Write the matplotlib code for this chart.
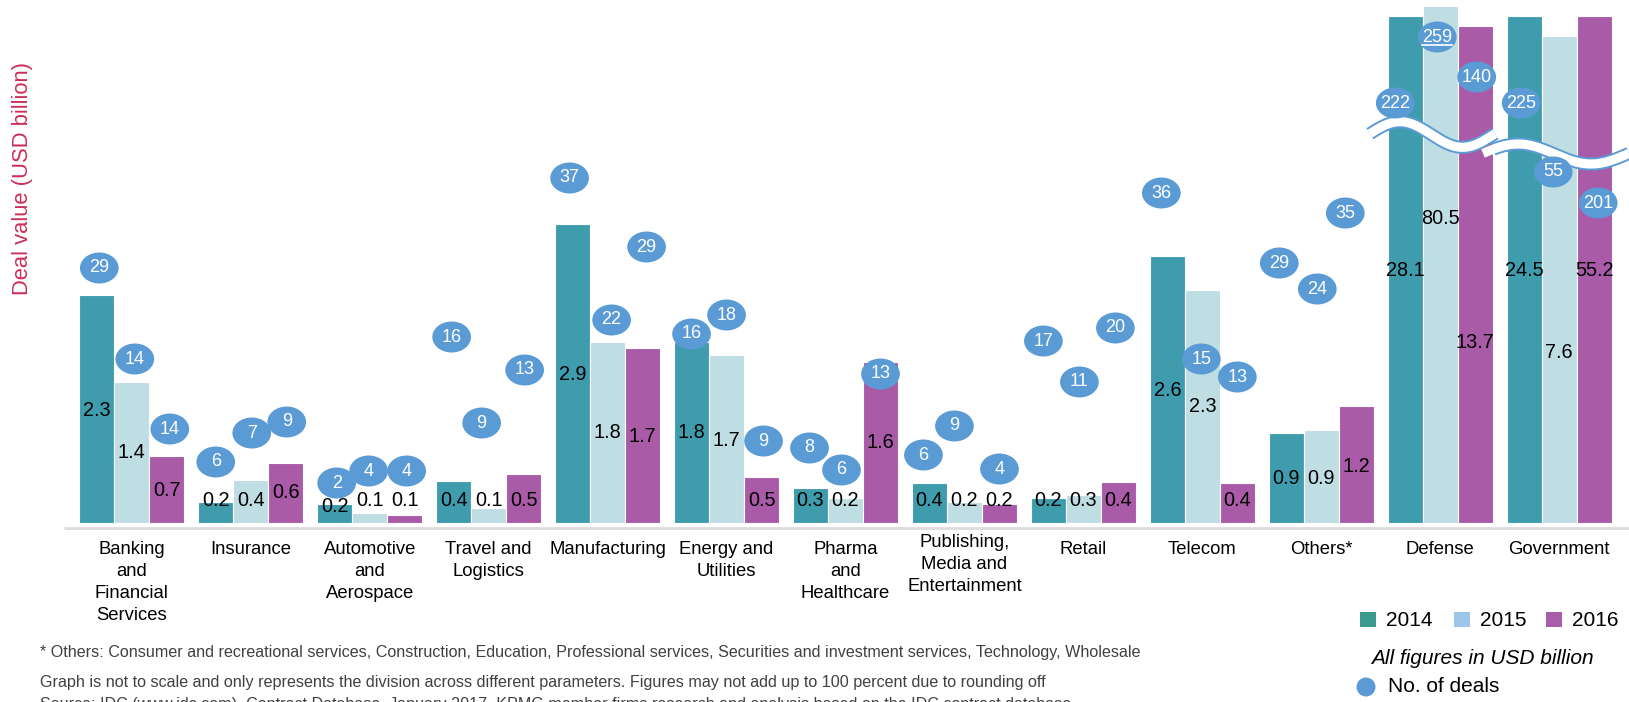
import numpy as np
import matplotlib
matplotlib.use("Agg")
import matplotlib.pyplot as plt
from matplotlib.patches import Ellipse, Rectangle

plt.rcParams['font.family'] = ['Liberation Sans', 'DejaVu Sans']

# Categories
categories = ["Banking\nand\nFinancial\nServices", "Insurance", "Automotive\nand\nAerospace",
              "Travel and\nLogistics", "Manufacturing", "Energy and\nUtilities",
              "Pharma\nand\nHealthcare", "Publishing,\nMedia and\nEntertainment", "Retail",
              "Telecom", "Others*", "Defense", "Government"]
years = ["2014", "2015", "2016"]

# Deal value labels (USD billion) as printed on the bars
values_2014 = ["2.3", "0.2", "0.2", "0.4", "2.9", "1.8", "0.3", "0.4", "0.2", "2.6", "0.9", "28.1", "24.5"]
values_2015 = ["1.4", "0.4", "0.1", "0.1", "1.8", "1.7", "0.2", "0.2", "0.3", "2.3", "0.9", "80.5", "7.6"]
values_2016 = ["0.7", "0.6", "0.1", "0.5", "1.7", "0.5", "1.6", "0.2", "0.4", "0.4", "1.2", "13.7", "55.2"]

# Drawn bar heights (graph is not to scale)
height_2014 = [228, 21, 19, 42, 299, 181, 35, 40, 25, 267, 90, 507, 507]
height_2015 = [141, 43, 10, 15, 181, 168, 25, 21, 28, 233, 93, 517, 487]
height_2016 = [67, 60, 8, 49, 175, 46, 161, 19, 41, 40, 117, 497, 507]

# Number of deals
deals_2014 = [29, 6, 2, 16, 37, 16, 8, 6, 17, 36, 29, 222, 225]
deals_2015 = [14, 7, 4, 9, 22, 18, 6, 9, 11, 15, 24, 259, 55]
deals_2016 = [14, 9, 4, 13, 29, 9, 13, 4, 20, 13, 35, 140, 201]

# Layout: label heights, bubble heights and x nudges
label_y_2014 = [113, 23, 16, 23, 148, 90, 23, 23, 23, 133, 45, 252, 252]
label_y_2015 = [70, 23, 23, 23, 90, 83, 23, 23, 23, 116, 45, 305, 171]
label_y_2016 = [33, 30, 23, 23, 86, 23, 80, 23, 23, 23, 57, 180, 252]
bubble_y_2014 = [255, 61, 40, 186, 345, 189, 75, 68, 182, 330, 260, 420, 420]
bubble_y_2015 = [164, 90, 52, 100, 203, 208, 53, 97, 141, 164, 234, 486, 351]
bubble_y_2016 = [94, 101, 52, 153, 276, 82, 149, 54, 195, 146, 310, 446, 320]
bubble_dx_2014 = [2.5, 0, 2, -2, -3, 0, -1, -6, -5, -6, -7, -10, -3]
bubble_dx_2015 = [3, 1, -1, -7, 4, 0, -4, -10, -4, -1, -4, -3, -6]
bubble_dx_2016 = [3, 1, 2, 1, 4, 2, 0, 0, -3, 0, -11, 1.5, 4]
cat_lift = [0, 0, 0, 0, 0, 0, 0, 7, 0, 0, 0, 0, 0]

bar_colors = ["#3F9CAD", "#BEDEE3", "#A95BA8"]
legend_colors = ["#3A9A8E", "#9DC6EA", "#A85DA9"]
bubble_color = "#5B9BD5"

W, H = 1629, 702
base = 523  # baseline in pixel rows from top

fig = plt.figure(figsize=(W / 100, H / 100), dpi=100)
ax = fig.add_axes([0, 0, 1, 1])
ax.set_xlim(0, W)
ax.set_ylim(base - H, base)
ax.axis("off")

centers = 131.8 + np.arange(len(categories)) * 118.95
bw = 35
heights = [height_2014, height_2015, height_2016]
values = [values_2014, values_2015, values_2016]
deals = [deals_2014, deals_2015, deals_2016]
label_ys = [label_y_2014, label_y_2015, label_y_2016]
bubble_ys = [bubble_y_2014, bubble_y_2015, bubble_y_2016]
bubble_dxs = [bubble_dx_2014, bubble_dx_2015, bubble_dx_2016]

for k in range(3):
    xs = centers + (k - 1) * bw
    ax.bar(xs, heights[k], width=bw, color=bar_colors[k], edgecolor="white", linewidth=0.8, zorder=2)
    for i, x in enumerate(xs):
        ax.text(x, label_ys[k][i], values[k][i], ha="center", va="center", fontsize=14.3, color="black", zorder=3)

# axis line
ax.plot([64, W], [-4.5, -4.5], color="#DDDDDD", lw=2.0, zorder=1, solid_capstyle="butt")

# break marks on Defense and Government
def break_band(x0, x1, c, amp, start_blue=0.0):
    t = np.linspace(0, 1, 200)
    x = x0 + (x1 - x0) * t
    y = base - (c - amp * np.cos(2 * np.pi * (t - 0.24)))
    m = t >= start_blue
    ax.plot(x[m], y[m], color=bubble_color, lw=9.4, solid_capstyle="butt", zorder=4)
    ax.plot(x, y, color="white", lw=6.6, solid_capstyle="butt", zorder=4)

break_band(1370, 1495, 134.5, 12.8)
break_band(1483, 1629, 154, 10, start_blue=0.07)

# deal bubbles
for k in range(3):
    xs = centers + (k - 1) * bw
    for i, x in enumerate(xs):
        bx = x + bubble_dxs[k][i]
        by = bubble_ys[k][i]
        ax.add_patch(Ellipse((bx, by), 38.7, 31, color=bubble_color, zorder=5, lw=0))
        ax.text(bx, by, str(deals[k][i]), ha="center", va="center", fontsize=13, color="white", zorder=6)
        if deals[k][i] == 259:
            ax.plot([bx - 15, bx + 15], [by - 8, by - 8], color="white", lw=1.2, zorder=6)

# category labels
for i, c in enumerate(categories):
    ax.text(centers[i], -18 + cat_lift[i], c, ha="center", va="top", fontsize=13.3,
            linespacing=1.38, color="black")

# y label
ax.text(23, base - 178.5, "Deal value (USD billion)", rotation=90, ha="center", va="center",
        fontsize=15.8, color="#CC2E5A")

# legend
for k, yr in enumerate(years):
    lx = [1360, 1454, 1546][k]
    ax.add_patch(Rectangle((lx, base - 627), 16, 15, color=legend_colors[k], lw=0))
    ax.text(lx + 26, base - 620, yr, ha="left", va="center", fontsize=15, color="black")
ax.text(1482, base - 659, "All figures in USD billion", ha="center", va="center", fontsize=15,
        style="italic", color="black")
ax.add_patch(Ellipse((1366, base - 687), 19, 19, color=bubble_color, lw=0))
ax.text(1388, base - 687, "No. of deals", ha="left", va="center", fontsize=15, color="black")

# footnotes
foot = "#404040"
ax.text(40, base - 653, "* Others: Consumer and recreational services, Construction, Education, Professional services, "
        "Securities and investment services, Technology, Wholesale", ha="left", va="center", fontsize=11.6, color=foot)
ax.text(40, base - 683, "Graph is not to scale and only represents the division across different parameters. "
        "Figures may not add up to 100 percent due to rounding off", ha="left", va="center", fontsize=11.6, color=foot)
ax.text(40, base - 705, "Source: IDC (www.idc.com), Contract Database, January 2017, KPMG member firms research "
        "and analysis based on the IDC contract database", ha="left", va="center", fontsize=11.6, color=foot)

fig.savefig("out.png", dpi=100)
